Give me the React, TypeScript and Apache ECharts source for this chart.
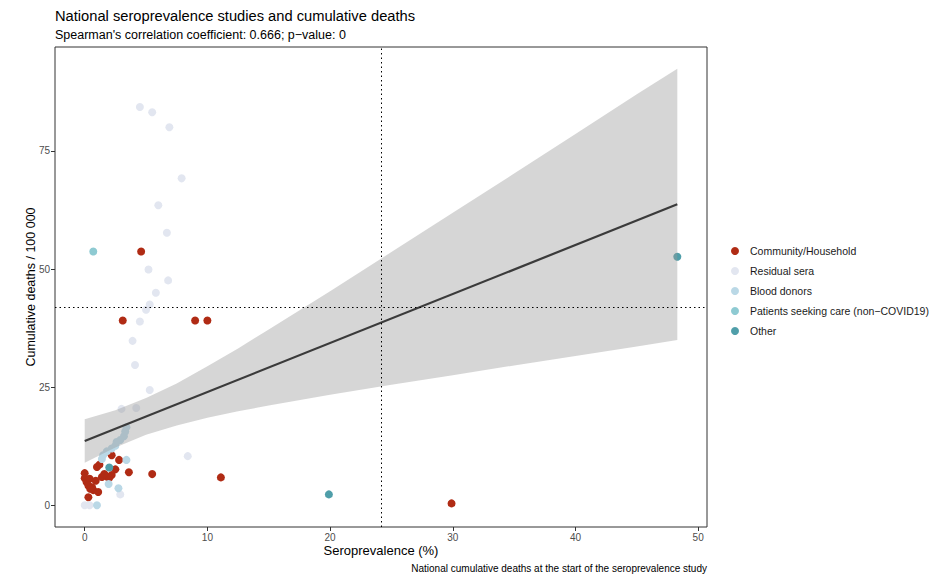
import React, { useEffect, useRef } from "react";
import * as echarts from "echarts";

const FONT = "'Liberation Sans', Arial, Helvetica, sans-serif";

const categories = [
  "Community/Household",
  "Residual sera",
  "Blood donors",
  "Patients seeking care (non\u2212COVID19)",
  "Other",
];
const colors = ["#B02B14", "#E2E6F0", "#BAD8E6", "#8ECAD2", "#4F9EA9"];

const communityX = [4.6, 3.1, 9.0, 10.0, 11.1, 5.5, 29.9, 2.2, 2.8, 1.0, 1.2, 2.5, 3.6, 1.4, 1.8, 2.2, 2.0, 0.0, 0.0, 0.15, 0.4, 0.6, 0.7, 1.1, 0.3, 0.3, 0.9, 1.6, 0.45];
const communityY = [53.7, 39.1, 39.1, 39.1, 5.9, 6.6, 0.4, 10.6, 9.6, 8.1, 8.6, 7.6, 7.0, 6.0, 6.1, 6.4, 5.8, 6.8, 5.7, 4.9, 5.6, 3.8, 3.2, 2.8, 1.7, 4.2, 5.2, 6.6, 3.5];

const residualX = [4.5, 5.5, 6.9, 7.9, 6.0, 6.7, 5.2, 6.8, 5.8, 5.3, 5.0, 4.5, 3.9, 4.1, 5.3, 4.2, 3.0, 8.4, 0.0, 0.4, 2.9];
const residualY = [84.3, 83.2, 80.0, 69.2, 63.5, 57.7, 49.9, 47.6, 45.0, 42.5, 41.4, 38.9, 34.8, 29.7, 24.4, 20.6, 20.4, 10.4, 0.0, 0.0, 2.3];

const donorsX = [1.5, 1.8, 2.2, 2.5, 2.6, 2.9, 3.2, 3.3, 3.4, 3.4, 1.4, 1.95, 2.75, 1.0];
const donorsY = [10.6, 11.4, 12.0, 12.6, 13.4, 13.8, 14.6, 15.6, 16.5, 9.6, 9.8, 4.5, 3.6, 0.0];

const patientsX = [0.7];
const patientsY = [53.7];

const otherX = [48.3, 19.9, 2.0];
const otherY = [52.6, 2.3, 8.0];

const fitX = [0, 48.3];
const fitY = [13.6, 63.7];

const ribbonX = [0, 2.5, 5, 7.5, 10, 12.5, 15, 20, 25, 30, 35, 40, 45, 48.3];
const ribbonLow = [9.0, 12.25, 14.9, 16.9, 18.5, 19.9, 21.1, 23.4, 25.5, 27.5, 29.6, 31.6, 33.6, 35.0];
const ribbonHigh = [18.2, 20.1, 22.7, 25.8, 29.4, 33.2, 37.2, 45.3, 53.6, 61.9, 70.2, 78.6, 87.0, 92.4];

const xTicks = [0, 10, 20, 30, 40, 50];
const yTicks = [0, 25, 50, 75];

const refX = 24.2;
const refY = 42.0;

const seriesX = [communityX, residualX, donorsX, patientsX, otherX];
const seriesY = [communityY, residualY, donorsY, patientsY, otherY];

export default function App() {
  const ref = useRef<HTMLDivElement>(null);
  useEffect(() => {
    if (!ref.current) return;
    const chart = echarts.init(ref.current, null, { renderer: "svg" });

    const scatterSeries = categories.map((name, i) => ({
      type: "scatter",
      name,
      data: seriesX[i].map((x, j) => [x, seriesY[i][j]]),
      symbol: "circle",
      symbolSize: 8,
      itemStyle: { color: colors[i], opacity: 1 },
      emphasis: { disabled: true },
      z: 2,
    }));

    const axisCommon = {
      type: "value",
      splitLine: { show: false },
      axisLine: { show: false, onZero: false },
      axisTick: { show: true, length: 4, lineStyle: { color: "#333", width: 1 } },
    };

    const option: any = {
      animation: false,
      grid: {
        left: 55,
        right: 243,
        top: 47,
        bottom: 51,
        show: true,
        borderColor: "#333",
        borderWidth: 1,
        backgroundColor: "transparent",
      },
      xAxis: {
        ...axisCommon,
        min: -2.42,
        max: 50.72,
        axisTick: { ...axisCommon.axisTick, customValues: xTicks },
        axisLabel: { customValues: xTicks, color: "#4D4D4D", fontSize: 10, fontFamily: FONT, margin: 5 },
      },
      yAxis: {
        ...axisCommon,
        min: -4.6,
        max: 97.0,
        axisTick: { ...axisCommon.axisTick, customValues: yTicks },
        axisLabel: { customValues: yTicks, color: "#4D4D4D", fontSize: 10, fontFamily: FONT, margin: 5 },
      },
      legend: {
        orient: "vertical",
        left: 726,
        top: 240,
        data: categories,
        icon: "circle",
        itemWidth: 20,
        itemHeight: 8,
        itemGap: 8,
        textStyle: { fontSize: 10.5, fontFamily: FONT, color: "#1a1a1a", lineHeight: 12 },
        selectedMode: false,
      },
      series: [
        ...scatterSeries,
        {
          type: "custom",
          name: "ribbon",
          silent: true,
          z: 3,
          data: ribbonX.map((x, i) => [x, ribbonLow[i], ribbonHigh[i]]),
          encode: { x: 0, y: [1, 2] },
          renderItem: (params: any, api: any) => {
            if (params.dataIndex !== 0) return null;
            const upper = ribbonX.map((x, i) => api.coord([x, ribbonHigh[i]]));
            const lower = ribbonX.map((x, i) => api.coord([x, ribbonLow[i]])).reverse();
            return {
              type: "polygon",
              shape: { points: upper.concat(lower), smooth: 0 },
              style: { fill: "rgba(153,153,153,0.4)", stroke: "none" },
            };
          },
        },
        {
          type: "line",
          name: "fit",
          data: fitX.map((x, i) => [x, fitY[i]]),
          showSymbol: false,
          symbol: "none",
          silent: true,
          z: 4,
          lineStyle: { color: "#3B3B3B", width: 2.2 },
          markLine: {
            silent: true,
            symbol: ["none", "none"],
            label: { show: false },
            lineStyle: { type: [1.5, 3], color: "#000", width: 1 },
            data: [{ xAxis: refX }, { yAxis: refY }],
          },
        },
      ],
      graphic: [
        {
          type: "text",
          left: 55,
          top: 8,
          style: { text: "National seroprevalence studies and cumulative deaths", fontSize: 14.7, fontFamily: FONT, fill: "#000" },
        },
        {
          type: "text",
          left: 55,
          top: 28,
          style: { text: "Spearman's correlation coefficient: 0.666; p\u2212value: 0", fontSize: 12.5, fontFamily: FONT, fill: "#000" },
        },
        {
          type: "text",
          x: 381,
          y: 550,
          style: { text: "Seroprevalence (%)", fontSize: 13, fontFamily: FONT, fill: "#000", align: "center", verticalAlign: "middle" },
        },
        {
          type: "text",
          x: 31,
          y: 287,
          rotation: Math.PI / 2,
          style: { text: "Cumulative deaths / 100 000", fontSize: 12.5, fontFamily: FONT, fill: "#000", align: "center", verticalAlign: "middle" },
        },
        {
          type: "text",
          x: 707,
          y: 568,
          style: { text: "National cumulative deaths at the start of the seroprevalence study", fontSize: 10, fontFamily: FONT, fill: "#000", align: "right", verticalAlign: "middle" },
        },
      ],
    };
    chart.setOption(option);
    return () => chart.dispose();
  }, []);
  return <div ref={ref} style={{ position: "fixed", left: 0, top: 0, width: 950, height: 578, background: "#fff" }} />;
}
